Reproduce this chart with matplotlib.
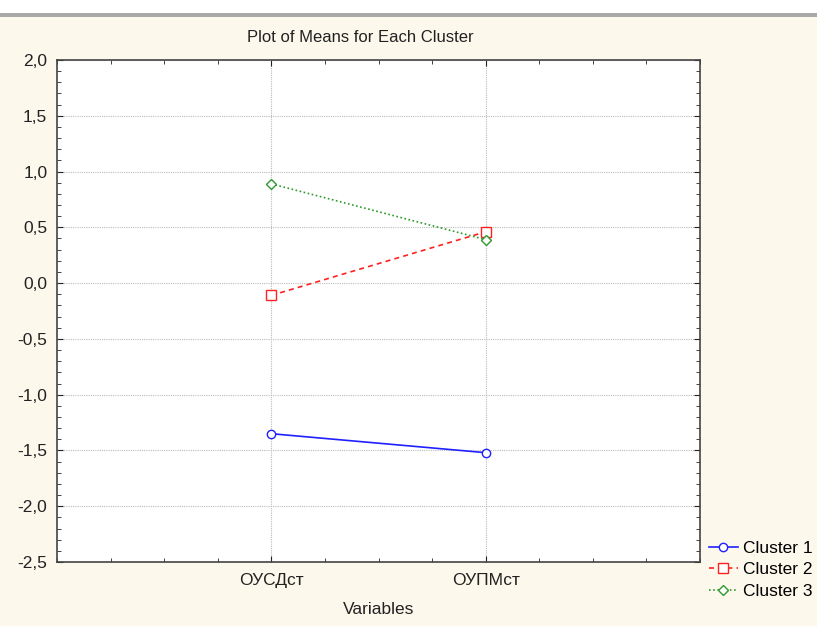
import matplotlib.pyplot as plt
from matplotlib.patches import Rectangle
from matplotlib.ticker import MultipleLocator, FuncFormatter

plt.rcParams['font.family'] = ['Liberation Sans', 'DejaVu Sans']

variables = ['ОУСДст', 'ОУПМст']
cluster1 = [-1.35, -1.52]
cluster2 = [-0.11, 0.46]
cluster3 = [0.89, 0.39]

fig = plt.figure(figsize=(8.17, 6.26), dpi=100)
fig.patch.set_facecolor('#fdf8ec')
# window frame strip at top
fig.patches.append(Rectangle((0, 1 - 13 / 626), 1, 13 / 626, transform=fig.transFigure,
                             facecolor='white', edgecolor='none'))
fig.patches.append(Rectangle((0, 1 - 17 / 626), 1, 4 / 626, transform=fig.transFigure,
                             facecolor='#a8a8a8', edgecolor='none'))

ax = fig.add_axes([57 / 817, 1 - 562 / 626, 643 / 817, 502 / 626])
ax.set_facecolor('white')

x = [1, 2]
ax.plot(x, cluster1, color='#2020ff', linestyle='-', linewidth=1.2, marker='o',
        markersize=6, markerfacecolor='white', markeredgecolor='#2020ff', label='Cluster 1')
ax.plot(x, cluster2, color='#ff2020', linestyle=(0, (3, 2.5)), linewidth=1.2, marker='s',
        markersize=6.5, markerfacecolor='white', markeredgecolor='#ff2020', label='Cluster 2')
ax.plot(x, cluster3, color='#2e9a2e', linestyle=(0, (1, 1.5)), linewidth=1.2, marker='D',
        markersize=5, markerfacecolor='white', markeredgecolor='#2e9a2e', label='Cluster 3')

ax.set_xlim(0, 3)
ax.set_ylim(-2.5, 2.0)
ax.set_xticks(x)
ax.set_xticklabels(variables)
ax.xaxis.set_minor_locator(MultipleLocator(0.25))
ax.yaxis.set_major_locator(MultipleLocator(0.5))
ax.yaxis.set_minor_locator(MultipleLocator(0.1))
ax.yaxis.set_major_formatter(FuncFormatter(lambda v, p: f'{v:.1f}'.replace('.', ',')))

ax.grid(True, which='major', color='#bbbbbb', linestyle=(0, (1, 1)), linewidth=0.8)
ax.set_axisbelow(True)
ax.tick_params(which='both', direction='in', top=True, right=True, labelsize=12.5,
               colors='#222222')
ax.tick_params(axis='y', pad=7)
ax.tick_params(axis='x', pad=8)
ax.tick_params(which='major', length=4)
ax.tick_params(which='minor', length=3)
for s in ax.spines.values():
    s.set_color('#444444')
    s.set_linewidth(1.2)

ax.set_xlabel('Variables', fontsize=12.5, color='#222222', labelpad=10)
fig.text(360 / 817, 1 - 38 / 626, 'Plot of Means for Each Cluster', ha='center', va='center',
         fontsize=12, color='#222222')

ax.legend(loc='upper left', bbox_to_anchor=(707 / 817, 1 - 539 / 626),
          bbox_transform=fig.transFigure, frameon=False, fontsize=12.5,
          handlelength=1.7, handletextpad=0.25, labelspacing=0.36, borderaxespad=0,
          borderpad=0.1)

fig.savefig('out.png', dpi=100, facecolor=fig.get_facecolor())
